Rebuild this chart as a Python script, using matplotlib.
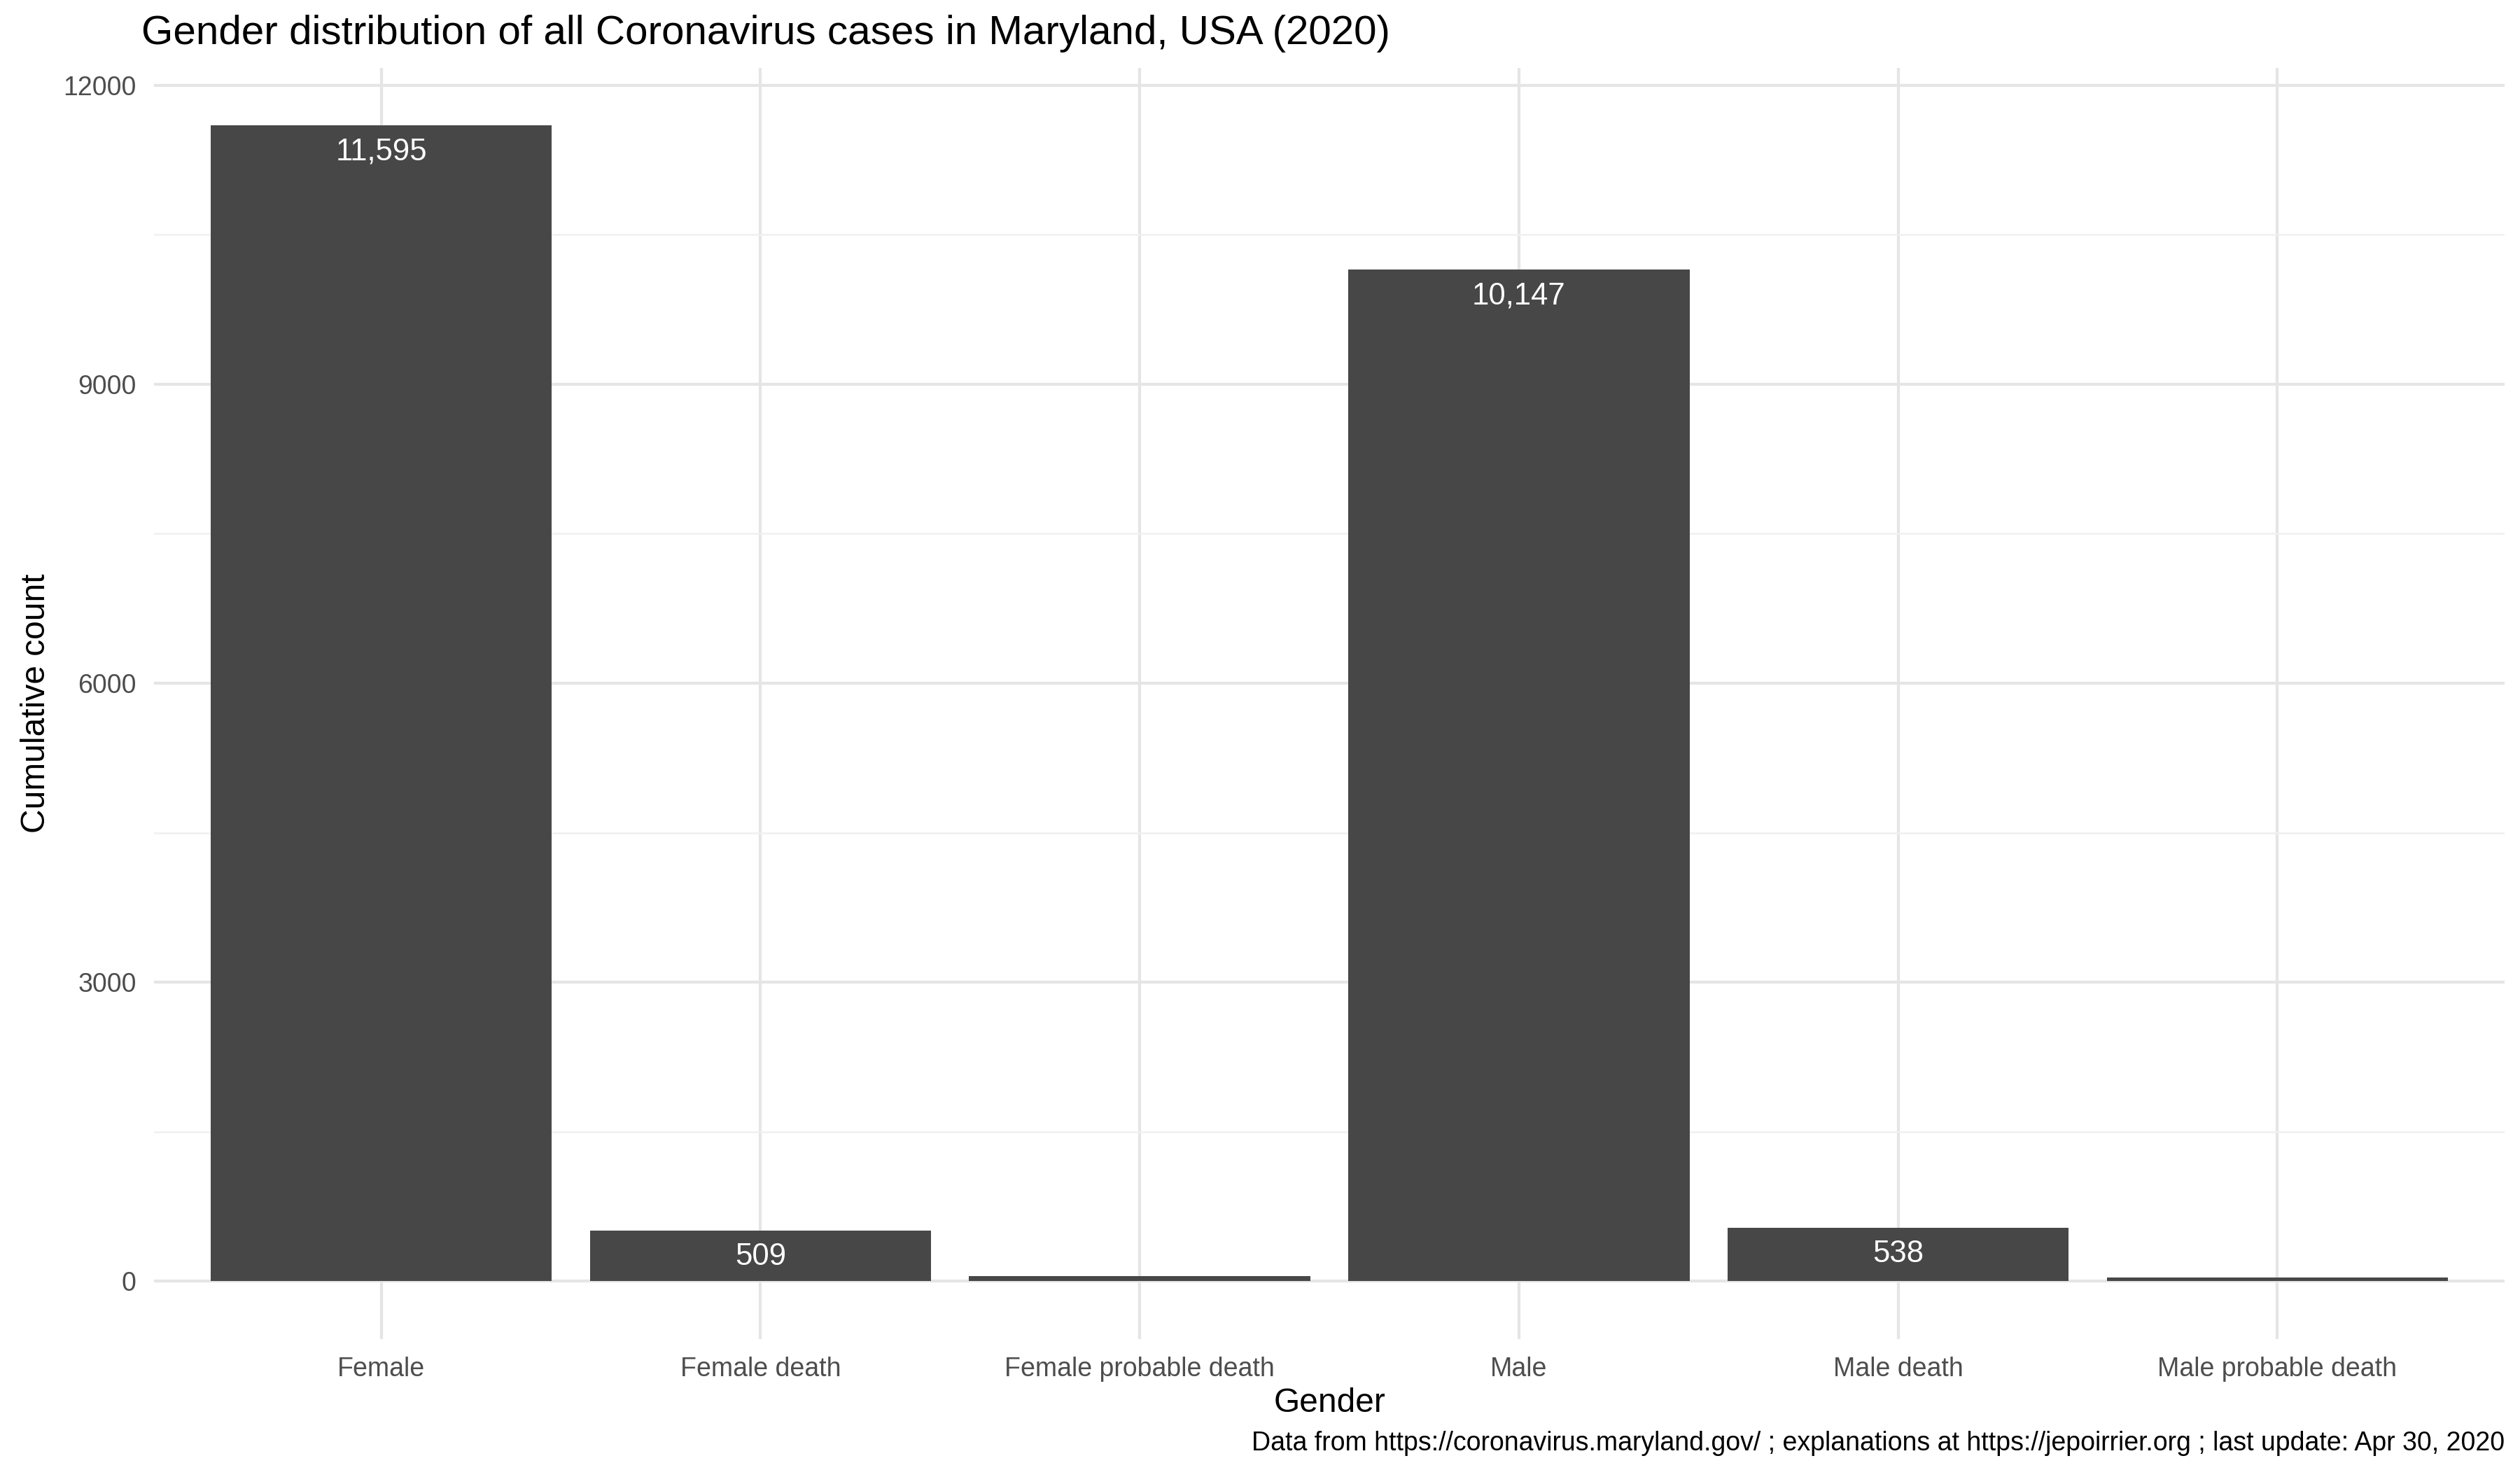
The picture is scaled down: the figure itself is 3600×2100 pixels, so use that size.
import matplotlib
matplotlib.use('Agg')
import matplotlib.pyplot as plt
from matplotlib.ticker import MultipleLocator, FuncFormatter

categorias = ['Female', 'Female death', 'Female probable death',
              'Male', 'Male death', 'Male probable death']
valores = [11595, 509, 52, 10147, 538, 40]
rotulos = ['11,595', '509', '', '10,147', '538', '']

plt.rcParams['font.family'] = ['Liberation Sans', 'DejaVu Sans']

fig = plt.figure(figsize=(12, 7), dpi=300)
ax = fig.add_axes([0.061, 0.089, 0.933, 0.865])

x = range(len(categorias))
bars = ax.bar(x, valores, width=0.9, color='#474747', zorder=3)

# Rótulos brancos dentro do topo das barras
for bar, txt in zip(bars, rotulos):
    if txt:
        ax.text(bar.get_x() + bar.get_width() / 2, bar.get_height() - 120, txt,
                ha='center', va='top', color='white', fontsize=10.5, zorder=4)

ax.set_xlim(-0.6, 5.6)
ax.set_ylim(-580, 12175)
ax.yaxis.set_major_locator(MultipleLocator(3000))
ax.yaxis.set_minor_locator(MultipleLocator(1500))
ax.yaxis.set_major_formatter(FuncFormatter(lambda v, p: f'{int(v)}'))
ax.set_xticks(list(x))
ax.set_xticklabels(categorias)

ax.grid(which='major', color='#e5e5e5', linewidth=1.0, zorder=0)
ax.grid(which='minor', axis='y', color='#f0f0f0', linewidth=0.6, zorder=0)
for s in ax.spines.values():
    s.set_visible(False)
ax.tick_params(which='both', length=0, labelsize=9, labelcolor='#4d4d4d', pad=6)

ax.set_xlabel('Gender', fontsize=11.5, labelpad=2)
ax.set_ylabel('Cumulative count', fontsize=11.5)
fig.text(0.056, 0.977, 'Gender distribution of all Coronavirus cases in Maryland, USA (2020)',
         fontsize=14, ha='left', va='center')
fig.text(0.994, 0.018,
         'Data from https://coronavirus.maryland.gov/ ; explanations at https://jepoirrier.org ; last update: Apr 30, 2020',
         fontsize=9, ha='right', va='center')

fig.savefig('out.png', dpi=300)
plt.close(fig)
